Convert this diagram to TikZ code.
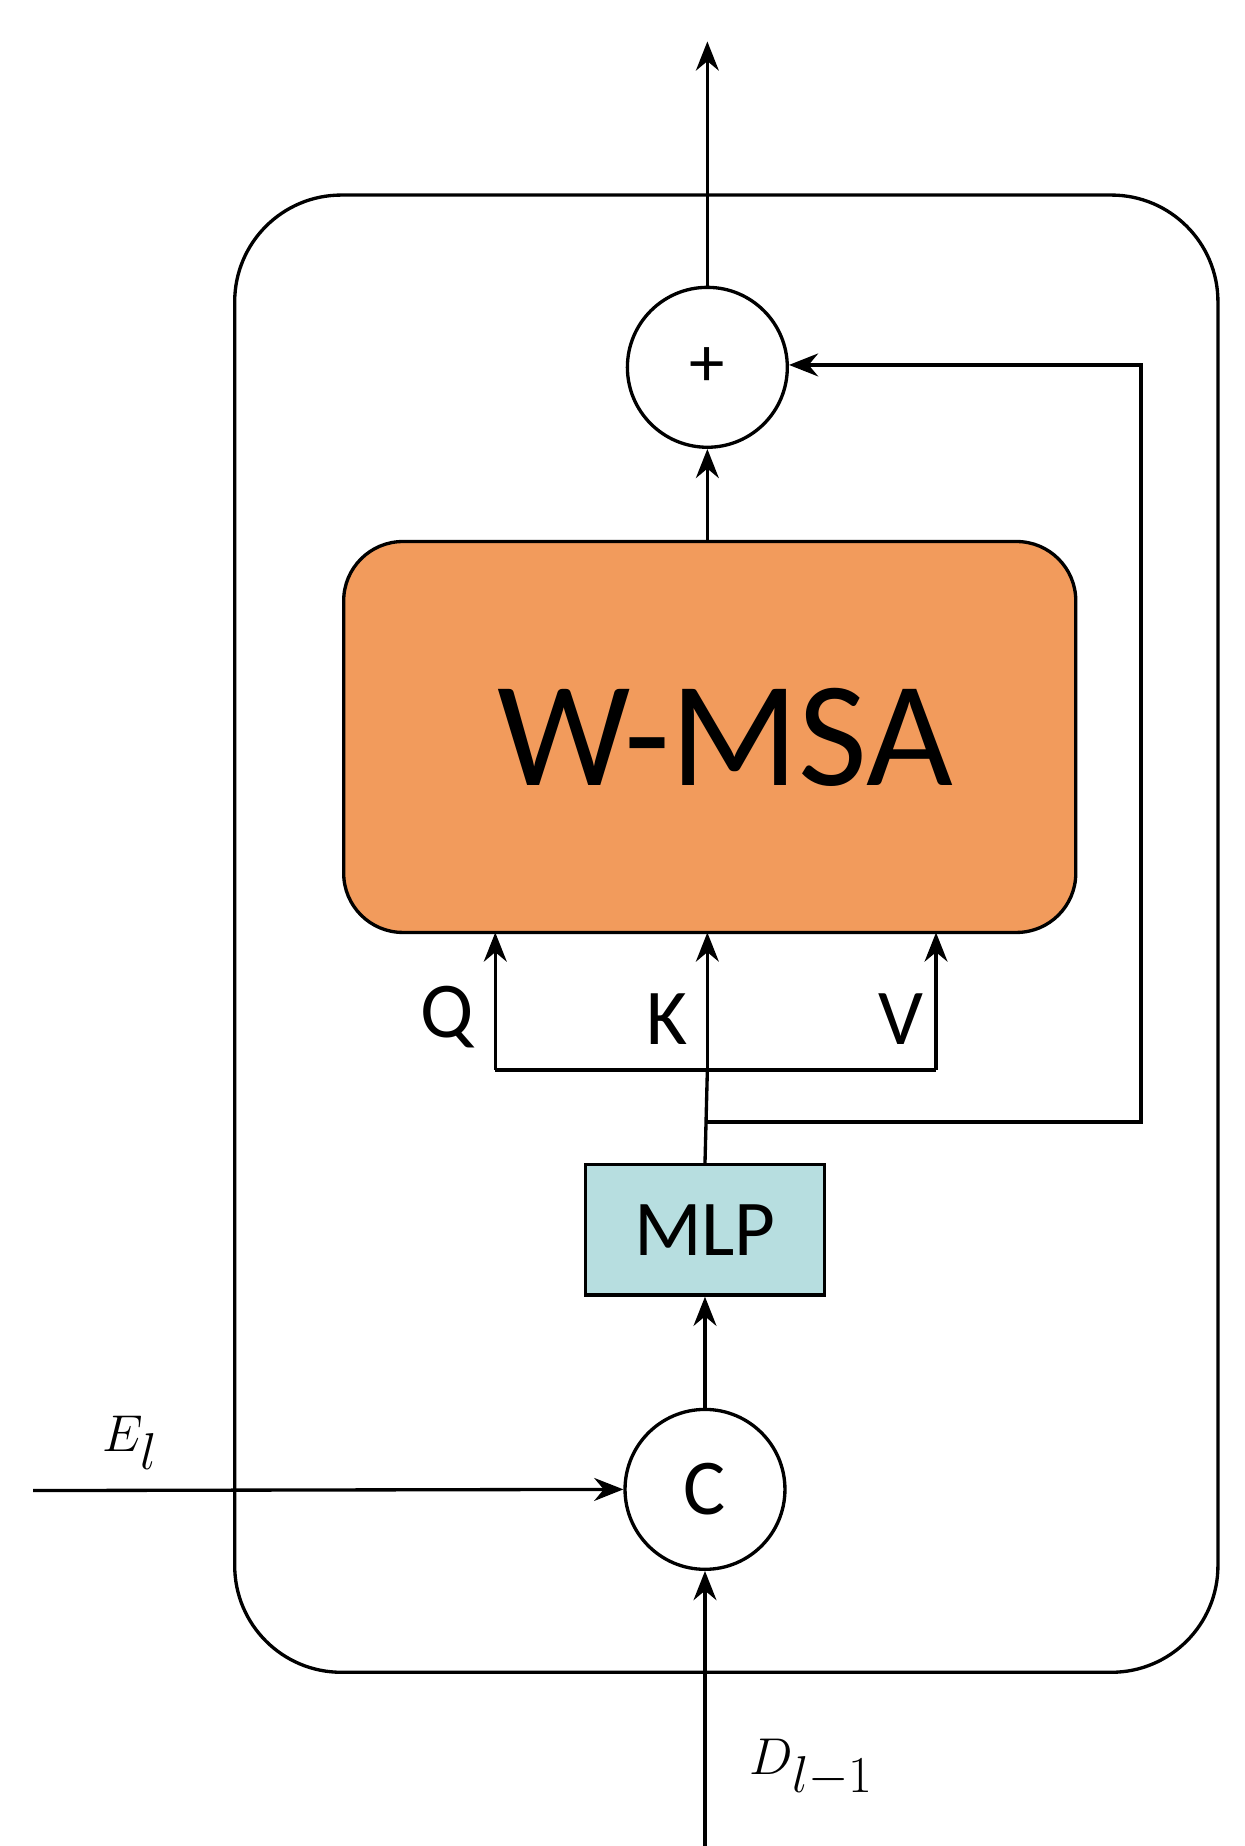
\documentclass[tikz,border=0pt]{standalone}
\usepackage{fontspec}
\setmainfont{Carlito}
\usetikzlibrary{arrows.meta, positioning}
\tikzstyle{arrow} = [line width=1.6pt,-{Stealth[length=14pt,width=11pt]}]
\tikzstyle{line} = [line width=1.6pt]
\tikzstyle{opnode} = [circle, draw=black, line width=1.6pt, minimum size=3.7cm, inner sep=0pt]
\tikzstyle{block} = [rectangle, draw=black, line width=1.6pt, inner sep=0pt]
\tikzstyle{lbl} = [font=\fontsize{38}{40}\selectfont]
\definecolor{msaorange}{RGB}{242,155,92}
\definecolor{mlpcyan}{RGB}{183,222,224}
\begin{document}
\begin{tikzpicture}[x=0.02cm, y=-0.02cm]
			\useasboundingbox (0,0) rectangle (1050,1558);
			% Rahmen
			\node (frame) [block, rounded corners=1.8cm, minimum width=16.6cm, minimum height=24.94cm] at (613,788) {};
			% Bloecke
			\node (plus) [opnode, minimum size=2.7cm, font=\fontsize{34}{36}\selectfont] at (597,310) {+};
			\node (msa) [block, rounded corners=1cm, fill=msaorange, minimum width=12.36cm, minimum height=6.6cm] at (599,622) {};
			\node (msatext) [font=\fontsize{72}{74}\selectfont] at (612,622) {W-MSA};
			\node (mlp) [block, fill=mlpcyan, minimum width=4.04cm, minimum height=2.2cm, lbl] at (595,1038) {MLP};
			\node (cat) [opnode, minimum size=2.7cm, lbl] at (595,1257) {C};
			% Hilfspunkte
			\coordinate (top) at (597,35);
			\coordinate (qin) at (418,787);
			\coordinate (kin) at (597,787);
			\coordinate (vin) at (790,787);
			\coordinate (qb) at (418,903);
			\coordinate (kb) at (597,903);
			\coordinate (vb) at (790,903);
			\coordinate (split) at (597,947);
			\coordinate (skip) at (963,947);
			\coordinate (skiptop) at (963,308);
			\coordinate (ein) at (28,1258);
			\coordinate (din) at (595,1560);
			% Labels
			\node (qlbl) [lbl] at (377,858) {Q};
			\node (klbl) [lbl] at (563,860) {K};
			\node (vlbl) [lbl] at (760,860) {V};
			\node (elbl) [font=\fontsize{36}{38}\selectfont] at (110,1218) {$E_l$};
			\node (dlbl) [font=\fontsize{36}{38}\selectfont] at (685,1492) {$D_{l-1}$};
			% Verbindungen
			\draw [arrow] (plus) -- (top);
			\draw [arrow] (msa.north -| plus) -- (plus);
			\draw [line] (mlp.north) -- (kb);
			\draw [line] (qb) -- (vb);
			\draw [arrow] (qb) -- (qin);
			\draw [arrow] (kb) -- (kin);
			\draw [arrow] (vb) -- (vin);
			\draw [arrow] (split) -- (skip) -- (skiptop) -- (plus.east |- skiptop);
			\draw [arrow] (cat) -- (mlp);
			\draw [arrow] (ein) -- (cat.west);
			\draw [arrow] (din) -- (cat);
\end{tikzpicture}
\end{document}
